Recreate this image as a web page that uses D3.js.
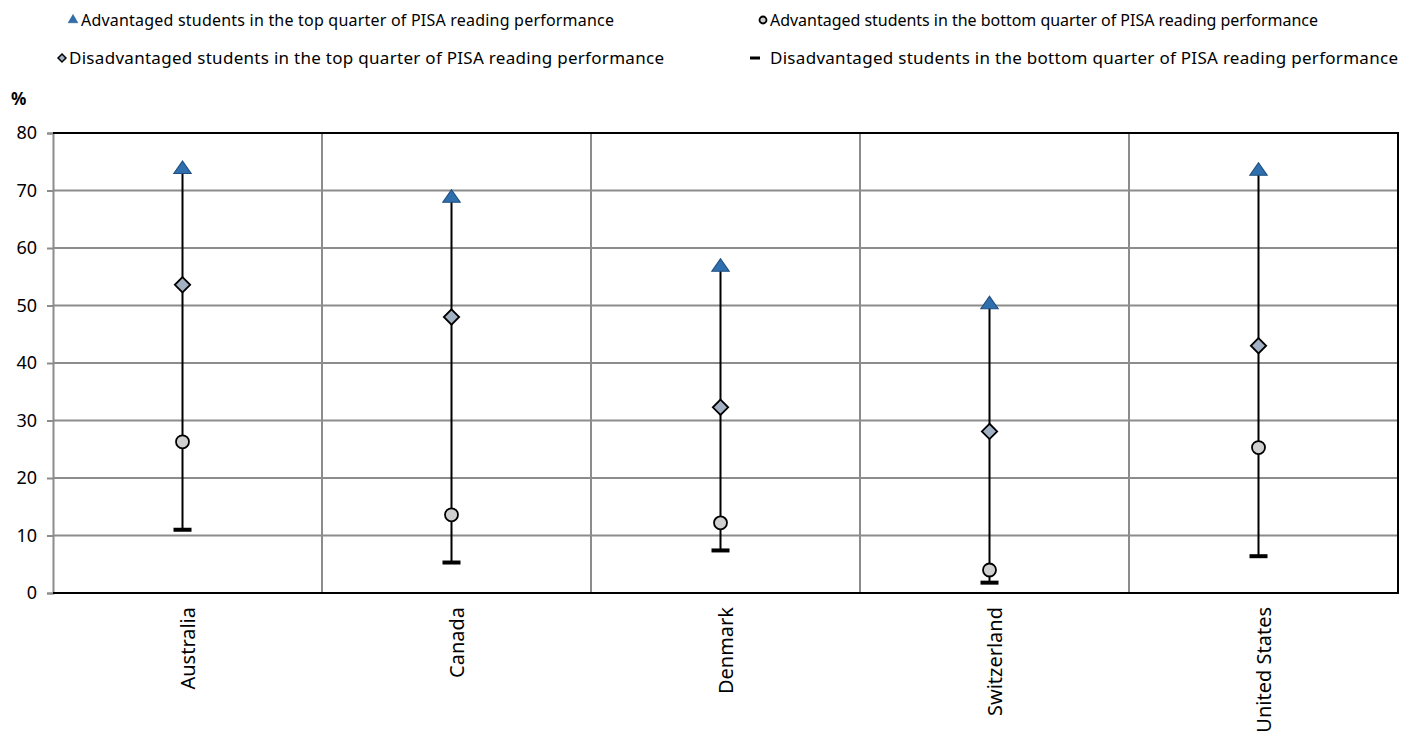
<!DOCTYPE html>
<html><head><meta charset="utf-8">
<script src="https://cdn.jsdelivr.net/npm/d3@7"></script>
<style>body{margin:0;background:#fff}svg{display:block}</style>
</head><body>
<script>
const countries = ["Australia","Canada","Denmark","Switzerland","United States"];
const advTop = [73.5,68.5,56.5,50.0,73.2];
const disTop = [53.6,48.0,32.3,28.1,43.0];
const advBottom = [26.3,13.6,12.2,4.0,25.3];
const disBottom = [11.0,5.3,7.4,1.8,6.4];
const yTicks = [0,10,20,30,40,50,60,70,80];
const legendLabels = [
 "Advantaged students in the top quarter of PISA reading performance",
 "Advantaged students in the bottom quarter of PISA reading performance",
 "Disadvantaged students in the top quarter of PISA reading performance",
 "Disadvantaged students in the bottom quarter of PISA reading performance"];

const FONT="'Noto Sans',sans-serif";
const W=1417,H=740;
const svg=d3.select("body").append("svg").attr("width",W).attr("height",H).attr("font-family",FONT);
const m={l:53,r:1398,t:133,b:593};
const x=d3.scaleBand().domain(countries).range([m.l,m.r]);
const y=d3.scaleLinear().domain([0,80]).range([m.b,m.t]);
const off=-5;
const cx=c=>x(c)+x.bandwidth()/2+off;

svg.append("g").selectAll("line").data(yTicks.filter(d=>d>0&&d<80)).join("line")
 .attr("x1",m.l).attr("x2",m.r).attr("y1",d=>y(d)).attr("y2",d=>y(d))
 .attr("stroke","#8c8c8c").attr("stroke-width",2);
svg.append("g").selectAll("line").data(countries.slice(1)).join("line")
 .attr("x1",d=>x(d)).attr("x2",d=>x(d)).attr("y1",m.t).attr("y2",m.b)
 .attr("stroke","#8c8c8c").attr("stroke-width",2);
const ya=svg.append("g").attr("transform",`translate(${m.l},0)`)
 .call(d3.axisLeft(y).tickValues(yTicks).tickSize(6).tickPadding(10));
ya.select(".domain").attr("stroke","#8c8c8c").attr("stroke-width",2);
ya.selectAll(".tick line").attr("stroke","#8c8c8c").attr("stroke-width",2);
ya.selectAll(".tick text").attr("font-size",18).attr("font-family",FONT).attr("fill","#000");
svg.append("path").attr("d",`M${m.l},${m.t}H${m.r}V${m.b}H${m.l}`).attr("fill","none").attr("stroke","#000").attr("stroke-width",2);

svg.append("text").attr("x",11).attr("y",105).attr("font-size",17).attr("font-weight","bold").text("%");

svg.append("g").selectAll("text").data(countries).join("text")
 .attr("transform",d=>`translate(${x(d)+x.bandwidth()/2+7},${m.b+14}) rotate(-90)`)
 .attr("text-anchor","end").attr("font-size",20).text(d=>d);

const g=svg.append("g");
g.selectAll("line.rng").data(countries).join("line").attr("class","rng")
 .attr("x1",cx).attr("x2",cx).attr("y1",(d,i)=>y(disBottom[i])).attr("y2",(d,i)=>y(advTop[i]))
 .attr("stroke","#000").attr("stroke-width",2);
g.selectAll("rect.dash").data(countries).join("rect").attr("class","dash")
 .attr("x",d=>cx(d)-9).attr("y",(d,i)=>y(disBottom[i])-2).attr("width",18).attr("height",4).attr("fill","#000");
g.selectAll("circle").data(countries).join("circle")
 .attr("cx",cx).attr("cy",(d,i)=>y(advBottom[i])).attr("r",6.5)
 .attr("fill","#d0d0d0").attr("stroke","#000").attr("stroke-width",1.8);
const dia=d3.symbol().type(d3.symbolDiamond2).size(150);
g.selectAll("path.dia").data(countries).join("path").attr("class","dia")
 .attr("d",dia).attr("transform",(d,i)=>`translate(${cx(d)},${y(disTop[i])})`)
 .attr("fill","#a3b1c4").attr("stroke","#000").attr("stroke-width",1.8);
const tri=d3.symbol().type(d3.symbolTriangle).size(100);
g.selectAll("path.tri").data(countries).join("path").attr("class","tri")
 .attr("d",tri).attr("transform",(d,i)=>`translate(${cx(d)},${y(advTop[i])-1}) scale(1.15,0.95)`)
 .attr("fill","#2f6fae").attr("stroke","#1f4f80").attr("stroke-width",1);

// legend: [symbol x, y, text start, text end, font size]
const L=svg.append("g");
const lpos=[[73,20,81,614,16],[763,20,770,1318,16],[62,58,69,664,17],[755,58,770,1398,17]];
legendLabels.forEach((t,i)=>{
 const [sx,ly,tx,te,fs]=lpos[i];
 let s;
 if(i===0) s=L.append("path").attr("d",d3.symbol().type(d3.symbolTriangle).size(40)).attr("fill","#2f6fae").attr("stroke","#1f4f80").attr("stroke-width",0.5);
 if(i===1) s=L.append("circle").attr("r",3.5).attr("fill","#d0d0d0").attr("stroke","#000").attr("stroke-width",1.8);
 if(i===2) s=L.append("path").attr("d",d3.symbol().type(d3.symbolDiamond2).size(40)).attr("fill","#a3b1c4").attr("stroke","#000").attr("stroke-width",1.5);
 if(i===3) s=L.append("rect").attr("x",-5).attr("y",-1.5).attr("width",10).attr("height",3).attr("fill","#000");
 s.attr("transform",`translate(${sx},${ly})`);
 L.append("text").attr("x",tx).attr("y",ly).attr("dy","0.35em").attr("font-size",fs)
  .attr("textLength",te-tx).attr("lengthAdjust","spacing").text(t);
});
</script>
</body></html>
